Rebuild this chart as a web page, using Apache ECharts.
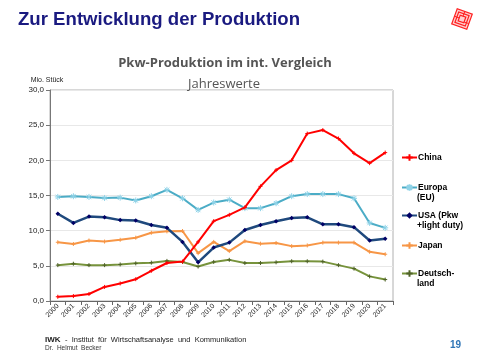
<!DOCTYPE html>
<html><head><meta charset="utf-8">
<script src="https://cdn.jsdelivr.net/npm/echarts@6/dist/echarts.min.js"></script>
<style>html,body{margin:0;padding:0;background:#fff}#c{width:480px;height:360px}</style>
</head><body><div id="c"></div>
<script>
var years = ['2000','2001','2002','2003','2004','2005','2006','2007','2008','2009','2010','2011','2012','2013','2014','2015','2016','2017','2018','2019','2020','2021'];
var china = [0.6,0.7,1.0,2.0,2.5,3.1,4.3,5.4,5.6,8.4,11.35,12.25,13.3,16.3,18.6,20.0,23.8,24.3,23.1,21.0,19.6,21.1];
var europa = [14.8,14.9,14.8,14.65,14.7,14.3,14.9,15.8,14.6,12.95,14.0,14.4,13.2,13.2,13.9,14.9,15.2,15.2,15.2,14.6,11.1,10.4];
var usa = [12.4,11.1,12.0,11.9,11.5,11.45,10.8,10.4,8.4,5.5,7.6,8.3,10.1,10.8,11.35,11.8,11.9,10.9,10.9,10.5,8.6,8.85];
var japan = [8.35,8.1,8.6,8.45,8.7,9.0,9.7,9.9,9.95,6.8,8.4,7.1,8.5,8.15,8.25,7.8,7.9,8.3,8.3,8.3,7.0,6.65];
var deutschland = [5.1,5.3,5.1,5.1,5.2,5.35,5.45,5.7,5.55,4.9,5.55,5.85,5.4,5.4,5.5,5.65,5.65,5.6,5.1,4.6,3.5,3.05];
var seriesNames = ['China','Europa (EU)','USA (Pkw +light duty)','Japan','Deutschland'];
var legendFirst = ['China','Europa','USA (Pkw','Japan','Deutsch-'];
var legendSecond = ['','(EU)','+light duty)','','land'];

var plusPath = 'path://M0,4 L8,4 M4,0 L4,8';
var starPath = 'path://M0,4 L8,4 M4,0 L4,8 M1,1 L7,7 M7,1 L1,7';

var cfg = [
  {data: china, color:'#ff0000', symbol: plusPath, size: 4, lw:2},
  {data: europa, color:'#4bacc6', symbol: starPath, size: 6, lw:2, mcolor:'#8fd3e8'},
  {data: usa, color:'#1f497d', symbol: 'diamond', size: 4.5, lw:2.5, mcolor:'#000066', fill:true},
  {data: japan, color:'#f79646', symbol: plusPath, size: 4, lw:2},
  {data: deutschland, color:'#77933c', symbol: plusPath, size: 4, lw:2, mcolor:'#4f6228'}
];

var series = cfg.map(function(c, i){
  var mc = c.mcolor || c.color;
  return {
    name: seriesNames[i], type:'line', data: c.data,
    symbol: c.symbol, symbolSize: c.size, showSymbol: true,
    lineStyle:{color:c.color, width:c.lw},
    itemStyle: c.fill ? {color: mc, borderWidth:0} : {color: mc, borderColor: mc, borderWidth:1},
    animation:false, z: 10 - i
  };
});
var legendY = [157, 187, 215, 245, 273];
var legends = seriesNames.map(function(n, i){
  return {
    data:[n], left: 401, top: legendY[i]-4, orient:'vertical', padding:0,
    itemWidth: 15, itemHeight: 8, itemGap: 0, selectedMode:false,
    formatter: function(){ return legendFirst[i]; },
    textStyle:{fontFamily:'Liberation Sans, Arial', fontSize:8.5, fontWeight:'bold', color:'#000', padding:[0,0,0,-4]}
  };
});
var graphics = [
  {type:'text', left:18, top:10, style:{text:'Zur Entwicklung der Produktion', fontFamily:'Liberation Sans, Arial', fontWeight:'bold', fontSize:18.6, fill:'#1a1a80'}},
  {type:'text', left:45, top:336, style:{text:'IWK', fontFamily:'Liberation Sans, Arial', fontWeight:'bold', fontSize:8, fill:'#222'}},
  {type:'text', left:65, top:336, style:{text:'-  Institut  für  Wirtschaftsanalyse  und  Kommunikation', fontFamily:'Liberation Sans, Arial', fontSize:7.5, fill:'#222'}},
  {type:'text', left:45, top:345, style:{text:'Dr.  Helmut  Becker', fontFamily:'Liberation Sans, Arial', fontSize:6.5, fill:'#333'}},
  {type:'text', left:450, top:340, style:{text:'19', fontFamily:'Liberation Sans, Arial', fontWeight:'bold', fontSize:10, fill:'#2e75b6'}},
  {type:'group', x:462, y:19, rotation:-0.35, children:[
    {type:'rect', shape:{x:-8,y:-8,width:16,height:16}, style:{fill:'#ffd0d0', stroke:'#ff2020', lineWidth:1.2}},
    {type:'rect', shape:{x:-5.5,y:-5.5,width:11,height:11}, style:{fill:'none', stroke:'#ff2020', lineWidth:1.2}},
    {type:'rect', shape:{x:-3,y:-3,width:6,height:6}, style:{fill:'none', stroke:'#ff2020', lineWidth:1.2}},
    {type:'line', shape:{x1:-8,y1:0,x2:-3,y2:0}, style:{stroke:'#ff2020', lineWidth:1}},
    {type:'line', shape:{x1:3,y1:2,x2:8,y2:2}, style:{stroke:'#ff2020', lineWidth:1}},
    {type:'line', shape:{x1:0,y1:-8,x2:0,y2:-3}, style:{stroke:'#ff2020', lineWidth:1}}
  ]}
];
legendSecond.forEach(function(t, i){
  if (t) graphics.push({type:'text', left:417, top: legendY[i]+6, style:{text:t, fontFamily:'Liberation Sans, Arial', fontWeight:'bold', fontSize:8.5, fill:'#000'}});
});

var chart = echarts.init(document.getElementById('c'), null, {renderer:'canvas'});
chart.setOption({
  backgroundColor:'#fff',
  animation:false,
  title: [
    {text:'Pkw-Produktion im int. Vergleich', left: 220, top: 52, textAlign:'center',
     textStyle:{fontFamily:'Open Sans', fontSize:13, fontWeight:'bold', color:'#555'}},
    {text:'Jahreswerte', left: 219, top: 73, textAlign:'center',
     textStyle:{fontFamily:'Open Sans', fontSize:13, fontWeight:'normal', color:'#555'}}
  ],
  legend: legends,
  grid:{left:50, right:87, top:90, bottom:59, show:true, borderColor:'#b0b0b0', borderWidth:1, backgroundColor:'transparent'},
  xAxis:{
    type:'category', data: years, boundaryGap:true,
    axisLine:{lineStyle:{color:'#666'}},
    axisTick:{show:true, alignWithLabel:false, length:4, lineStyle:{color:'#666'}},
    axisLabel:{rotate:45, fontFamily:'Liberation Sans, Arial', fontSize:7, color:'#222', margin:4, interval:0}
  },
  yAxis:{
    type:'value', min:0, max:30, interval:5,
    name:'Mio. Stück', nameLocation:'end', nameGap:6,
    nameTextStyle:{fontFamily:'Liberation Sans, Arial', fontSize:7, color:'#222', align:'center', padding:[0,0,0,-6]},
    axisLine:{show:true, lineStyle:{color:'#777'}},
    axisTick:{show:true, length:4, lineStyle:{color:'#777'}},
    splitLine:{lineStyle:{color:'#e8e8e8'}},
    axisLabel:{fontFamily:'Liberation Sans, Arial', fontSize:8, color:'#222', margin:6,
      formatter:function(v){ return v.toFixed(1).replace('.', ','); }}
  },
  series: series,
  graphic: graphics
});
</script>
</body></html>
